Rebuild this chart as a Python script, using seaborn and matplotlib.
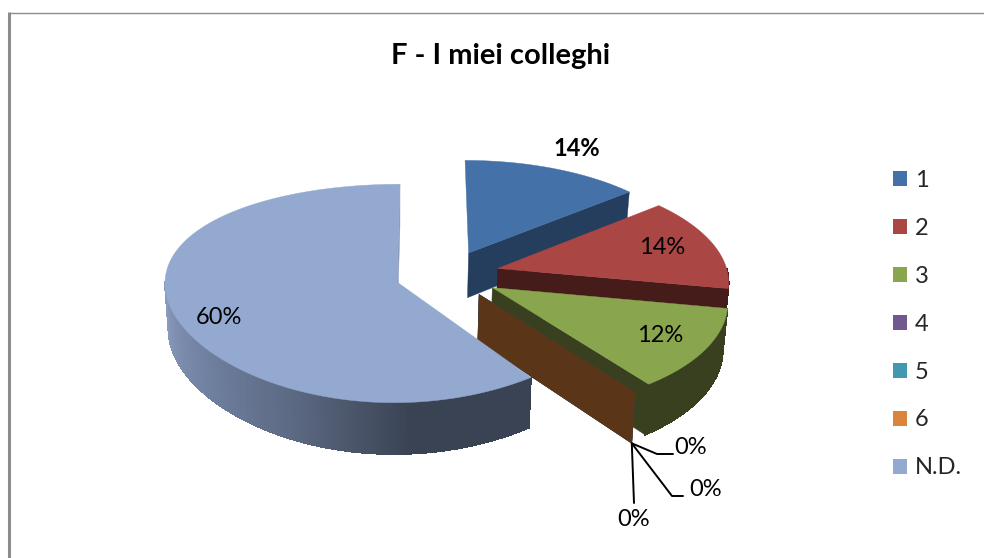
# Imports
import matplotlib
matplotlib.use("Agg")
import matplotlib.pyplot as plt
from matplotlib.collections import PolyCollection
from matplotlib.patches import Polygon, Rectangle
import seaborn as sns
import numpy as np

# Data
categories = ["1", "2", "3", "4", "5", "6", "N.D."]
percent_values = [14, 14, 12, 0, 0, 0, 60]
percent_labels = ["14%", "14%", "12%", "0%", "0%", "0%", "60%"]
chart_title = "F - I miei colleghi"

# Colours
top_colors = ["#4472A8", "#AA4644", "#89A54E", "#71588F", "#4198AF", "#DB843D", "#93A9CF"]
wall_colors = ["#263E5E", "#461C1B", "#384020", "#3E3050", "#245462", "#5A3518", "#8A99B8"]
nd_gradient = ["#8A9BBE", "#7283A3", "#5D6A84", "#3A4354", "#3A4354"]

# Pie geometry in image pixels
CENTER_X, CENTER_Y = 397, 282
RADIUS_X, RADIUS_Y = 232, 108
PERSPECTIVE = 0.105
SHEAR = 3
EXPLODE = 0.228
DEPTH = 46

# Label positions in image pixels
label_pos = [(577, 149), (662, 247), (660, 335), (691, 447), (706, 489), (634, 520), (219, 317)]
label_weight = ["bold", "normal", "normal", "normal", "normal", "normal", "normal"]
leader_bends = [[(657, 454), (673, 454)], [(672, 496), (683, 496)], [(634, 503)]]

sns.set_theme(style = "white")
plt.rcParams["font.family"] = ["Lato", "DejaVu Sans"]


# Project a point of the unit disc onto the image, at a given depth below the top surface
def project(x, y, depth = 0.0, x_persp = PERSPECTIVE):
    w = 1 + PERSPECTIVE * y
    px = CENTER_X + RADIUS_X * x / (1 + x_persp * y) + SHEAR * y
    py = CENTER_Y - RADIUS_Y * y / w
    if depth:
        px = CENTER_X + (px - CENTER_X) * 0.985
        py = py + depth / w
    return np.column_stack([px, py]) if np.ndim(px) else np.array([px, py])


# Work out start angle, end angle and exploded apex for every slice
def slice_geometry(values):
    ends = np.cumsum(values) / np.sum(values) * 2 * np.pi
    starts = np.concatenate([[0], ends[:-1]])
    mids = (starts + ends) / 2

    # The last slice stays at the centre, the others move relative to it
    ox = EXPLODE * np.sin(mids) - EXPLODE * np.sin(mids[-1])
    oy = EXPLODE * np.cos(mids) - EXPLODE * np.cos(mids[-1])
    return starts, ends, ox, oy


# Flat wall along a straight cut edge of a slice
def cut_wall(ax, angle, ox, oy, color, x_persp = PERSPECTIVE):
    rim = (ox + np.sin(angle), oy + np.cos(angle))
    pts = [
        project(ox, oy, 0, x_persp),
        project(*rim, 0, x_persp),
        project(*rim, DEPTH, x_persp),
        project(ox, oy, DEPTH, x_persp)
    ]
    ax.add_patch(Polygon(pts, closed = True, fc = color, ec = color, lw = 0.3))


# Curved outer wall of a slice, cut into small strips
def outer_wall(ax, start, end, ox, oy, colors, x_persp = PERSPECTIVE):
    t = np.linspace(start, end, len(colors) + 1)
    top = project(ox + np.sin(t), oy + np.cos(t), 0, x_persp)
    bottom = project(ox + np.sin(t), oy + np.cos(t), DEPTH, x_persp)
    strips = [[top[i], top[i + 1], bottom[i + 1], bottom[i]] for i in range(len(colors))]
    ax.add_collection(PolyCollection(strips, facecolors = colors, edgecolors = colors, linewidths = 0.5, antialiaseds = False))


# Top surface of a slice
def top_surface(ax, start, end, ox, oy, color, x_persp = PERSPECTIVE):
    t = np.linspace(start, end, 120)
    arc = project(ox + np.sin(t), oy + np.cos(t), 0, x_persp)
    pts = np.vstack([project(ox, oy, 0, x_persp), arc])
    ax.add_patch(Polygon(pts, closed = True, fc = color, ec = color, lw = 0.3))


fig = plt.figure(figsize = (9.84, 5.58), dpi = 100)
ax = fig.add_axes([0, 0, 1, 1])
ax.set_xlim(0, 984)
ax.set_ylim(558, 0)
ax.axis("off")

# Chart frame, only the top and left edges fall inside the picture
ax.plot([9, 984], [12.5, 12.5], color = "#8C8C8C", lw = 1, solid_capstyle = "butt")
ax.plot([9, 9], [12, 558], color = "#8C8C8C", lw = 2.2, solid_capstyle = "butt")

starts, ends, ox, oy = slice_geometry(np.array(percent_values, dtype = float))

# Draw the slices back to front
for i in range(len(categories) - 1):
    if percent_values[i] > 0 and ends[i] > np.pi / 2:
        outer_wall(ax, max(starts[i], np.pi / 2), ends[i], ox[i], oy[i], [wall_colors[i]] * 40)
    cut_wall(ax, ends[i], ox[i], oy[i], wall_colors[i])
    if percent_values[i] > 0:
        top_surface(ax, starts[i], ends[i], ox[i], oy[i], top_colors[i])

# Large slice with its shaded outer wall, it sits in the middle so it gets no sideways perspective
nd = len(categories) - 1
cut_wall(ax, ends[nd], ox[nd], oy[nd], wall_colors[nd], x_persp = 0)
shades = sns.blend_palette(nd_gradient[::-1], 120)
outer_wall(ax, starts[nd], 3 * np.pi / 2, ox[nd], oy[nd], shades, x_persp = 0)
top_surface(ax, starts[nd], ends[nd], ox[nd], oy[nd], top_colors[nd], x_persp = 0)

# Leader lines of the empty slices
tip = project(ox[5] + np.sin(ends[5]), oy[5] + np.cos(ends[5]), DEPTH)
for bends in leader_bends:
    xs = [tip[0]] + [b[0] for b in bends]
    ys = [tip[1]] + [b[1] for b in bends]
    ax.plot(xs, ys, color = "black", lw = 1.4)

# Percentage labels
for text, (x, y), weight in zip(percent_labels, label_pos, label_weight):
    ax.text(x, y, text, ha = "center", va = "center", fontsize = 17, color = "black", fontweight = weight)

# Title
ax.text(501, 56, chart_title, ha = "center", va = "center", fontsize = 21, fontweight = "bold", color = "black")

# Legend
handles = [Rectangle((0, 0), 1, 1, fc = c, ec = "none") for c in top_colors]
ax.legend(
    handles, categories,
    loc = "upper left",
    bbox_to_anchor = (874 / 984, 1 - 151 / 558),
    frameon = False,
    fontsize = 17,
    handlelength = 0.6,
    handleheight = 0.6,
    handletextpad = 0.34,
    labelspacing = 1.14,
    borderpad = 0.3
)

plt.savefig("out.png", dpi = 100)
